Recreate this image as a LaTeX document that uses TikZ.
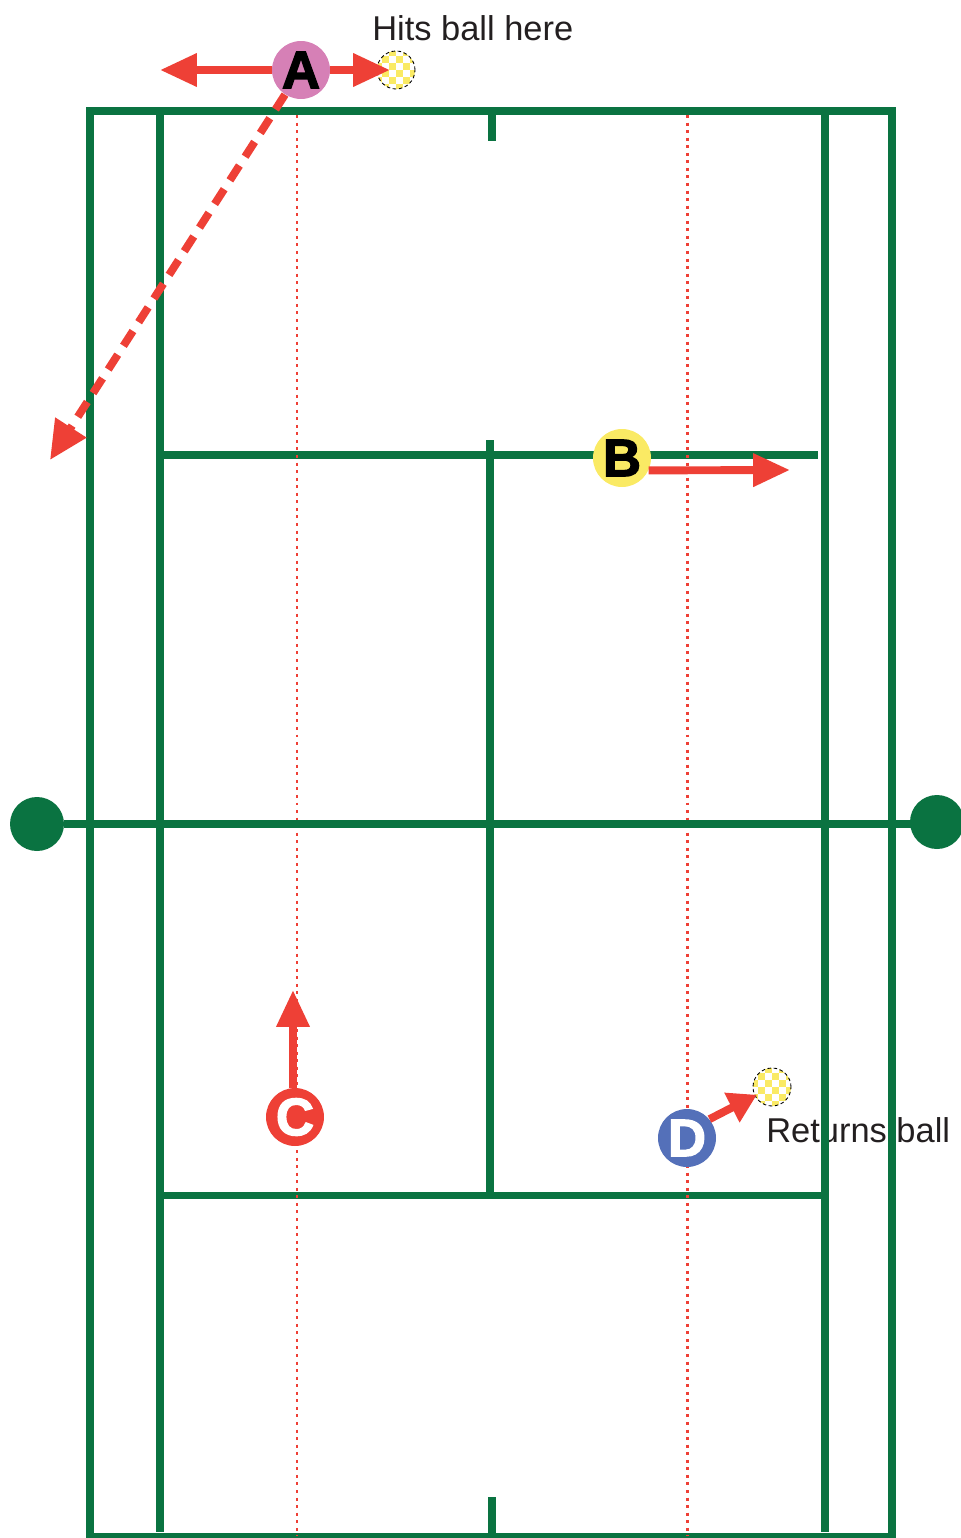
\documentclass[tikz,border=0pt]{standalone}
\usepackage{fontspec}
\setmainfont{Liberation Sans}
\newfontfamily\letterfont{Liberation Sans Bold}[RawFeature={embolden=2.5}]
\usepackage{tikz}
\usetikzlibrary{arrows.meta}
\definecolor{courtgreen}{RGB}{10,115,65}
\definecolor{arrowred}{RGB}{238,64,54}
\definecolor{playerpink}{RGB}{214,128,182}
\definecolor{playeryellow}{RGB}{250,234,100}
\definecolor{playerblue}{RGB}{84,112,185}
\definecolor{ballyellow}{RGB}{250,234,100}
\definecolor{notegray}{RGB}{35,31,32}
\tikzset{
    courtline/.style={draw=courtgreen, line width=4pt},
    guideline/.style={draw=arrowred, line width=1.7pt, dash pattern=on 1.7pt off 2.6pt},
    netpost/.style={fill=courtgreen, circle, minimum size=1.08cm, inner sep=0pt},
    player/.style={circle, minimum size=1.16cm, inner sep=0pt, font=\letterfont\fontsize{30}{30}\selectfont},
    runarrow/.style={-{Triangle[length=21pt,width=18pt]}, draw=arrowred, line width=4.5pt},
    shotarrow/.style={-{Triangle[length=22pt,width=20pt]}, draw=arrowred, line width=4.5pt, dash pattern=on 10pt off 6pt},
    notetext/.style={text=notegray, font=\fontsize{19.6}{20}\selectfont, inner sep=0pt}
}
% checkered ball: name, position
\newcommand{\drawball}[2]{%
    \coordinate (#1) at (#2);
    \begin{scope}[shift={(#2)}]
        \clip (0,0) circle (0.38cm);
        \foreach \i in {-3,...,2}
            \foreach \j in {-3,...,2}{
                \pgfmathtruncatemacro\cellodd{mod(\i+\j+6,2)}
                \ifnum\cellodd=0 \fill[ballyellow] (\i*7,\j*7) rectangle ++(7,7); \fi
            }
    \end{scope}
    \draw[black, line width=0.5pt, dash pattern=on 2pt off 1.5pt] (#2) circle (0.38cm);
}

\begin{document}
\begin{tikzpicture}[x=0.02cm, y=-0.02cm]
    \useasboundingbox (0,0) rectangle (960,1538);

    % labels
    \node[notetext, anchor=base west] (hitnote) at (372,40) {Hits ball here};
    \node[notetext, anchor=base west] (returnnote) at (766,1142) {Returns ball};

    % court
    \draw[courtline, line join=miter] (90,1536) -- (90,111) -- (892,111) -- (892,1536) -- cycle;
    \draw[courtline] (160,111) -- (160,1532);
    \draw[courtline] (825,111) -- (825,1532);
    \draw[courtline] (160,455) -- (818,455);
    \draw[courtline] (160,1195) -- (822,1195);
    \draw[courtline] (490,440) -- (490,1195);
    \draw[courtline] (492,111) -- (492,141);
    \draw[courtline] (492,1497) -- (492,1536);
    \draw[guideline] (297,115) -- (297,1536);
    \draw[guideline] (687,115) -- (687,1536);

    % net
    \node[netpost] (postL) at (37,824) {};
    \node[netpost] (postR) at (937,822) {};
    \draw[courtline] (postL) -- (postL -| postR);

    % balls
    \drawball{hitball}{396,70}
    \drawball{returnball}{772,1087}

    % players
    \node[player, fill=playerpink, text=black] (A) at (301,70) {A};
    \node[player, fill=playeryellow, text=black] (B) at (622,458) {B};
    \node[player, fill=arrowred, text=white] (C) at (295,1117) {C};
    \node[player, fill=playerblue, text=white] (D) at (687,1138) {D};

    \coordinate (Aleft) at (160,70);
    \coordinate (Ashot) at (50,460);
    \coordinate (Bmove) at (790,470);
    \coordinate (Cmove) at (293,990);

    \draw[runarrow] (A.west) -- (Aleft);
    \draw[runarrow, shorten >=0.12cm] (A.east) -- (hitball);
    \draw[shotarrow] (A.237) -- (Ashot);
    \draw[runarrow] (B.-25) -- (Bmove);
    \draw[runarrow] (C.north -| Cmove) -- (Cmove);
    \draw[runarrow, -{Triangle[length=16pt,width=18pt]}, shorten >=0.34cm] (D.40) -- (returnball);
\end{tikzpicture}
\end{document}
